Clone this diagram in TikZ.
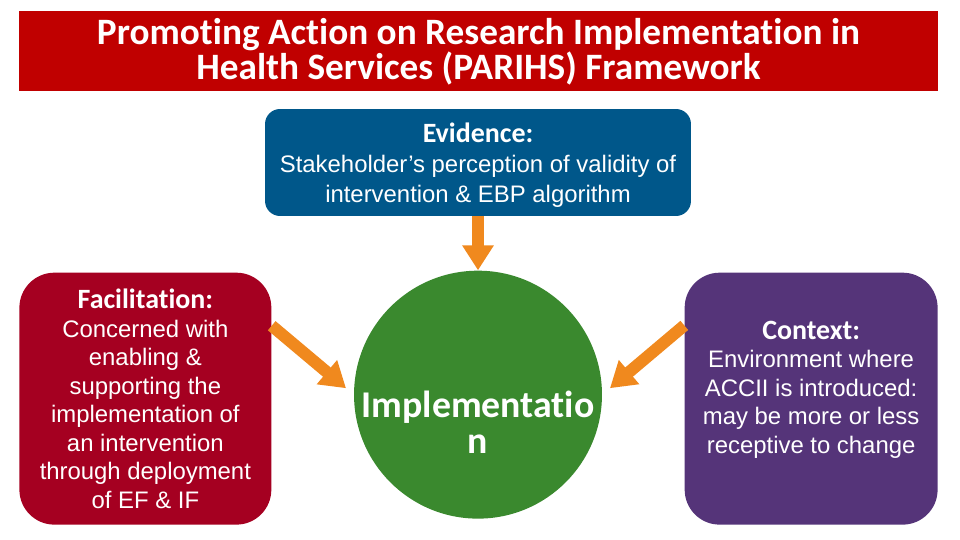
\documentclass[tikz,border=0pt]{standalone}
\usepackage{fontspec}
\setmainfont{Liberation Sans}
\newfontfamily\headfont{Carlito}[RawFeature={-liga;-clig;-calt;-dlig;-rlig}]
\usetikzlibrary{arrows.meta,positioning}

\definecolor{titlered}{RGB}{192,0,0}
\definecolor{evidblue}{RGB}{0,87,138}
\definecolor{facilred}{RGB}{165,0,33}
\definecolor{implgreen}{RGB}{58,137,46}
\definecolor{ctxpurple}{RGB}{85,52,121}
\definecolor{arroworange}{RGB}{240,137,30}

\newcommand{\headtext}[1]{{\headfont\bfseries\fontsize{15.9}{17}\selectfont #1}}

\begin{document}
\begin{tikzpicture}[
        x=0.02cm, y=-0.02cm,
        node distance=1.08cm and 1.64cm,
        every node/.style={text=white, align=center, inner sep=0pt},
        box/.style={rounded corners=0.7cm, minimum width=5.04cm, minimum height=5.04cm,
            yshift=-0.08cm, font=\fontsize{13.6}{16.25}\selectfont},
        link/.style={-{Triangle[length=0.5cm,width=0.6cm]}, line width=0.24cm, draw=arroworange}
    ]
    \useasboundingbox (0,0) rectangle (960,540);

    % Nodes
    \node (title) at (478.5,51) [fill=titlered, minimum width=18.38cm, minimum height=1.6cm,
        font=\headfont\bfseries\fontsize{21.2}{20.4}\selectfont]
        {\rule{0pt}{0.55cm}Promoting Action on Research Implementation in\\ Health Services (PARIHS) Framework};

    \node (evidence) at (478,162.5) [fill=evidblue, rounded corners=0.3cm,
        minimum width=8.52cm, minimum height=2.14cm, font=\fontsize{13.6}{17}\selectfont]
        {\rule{0pt}{0.5cm}\headtext{Evidence:}\\ Stakeholder's perception of validity of\\ intervention \& EBP algorithm};

    \node (impl)[below=of evidence, circle, fill=implgreen, minimum size=4.96cm] {};
    \node (impltext) at ([yshift=-0.56cm]impl.center)
        [font=\headfont\bfseries\fontsize{21.5}{20.4}\selectfont] {Implementatio\\ n};

    \node (facil)[left=of impl, box, fill=facilred]
        {\rule{0pt}{0.4cm}\headtext{Facilitation:}\\ Concerned with\\ enabling \&\\ supporting the\\
        implementation of\\ an intervention\\ through deployment\\ of EF \& IF};

    \node (context)[right=of impl, box, fill=ctxpurple, minimum width=5.06cm]
        {\headtext{Context:}\\ Environment where\\ ACCII is introduced:\\
        may be more or less\\ receptive to change\rule[-0.46cm]{0pt}{0.1cm}};

    % Edges
    \draw[link] (evidence) -- (impl);
    \draw[link, shorten >=0.2cm] (facil.30) -- (impl.west);
    \draw[link, shorten >=0.2cm] (context.150) -- (impl.east);

\end{tikzpicture}
\end{document}
